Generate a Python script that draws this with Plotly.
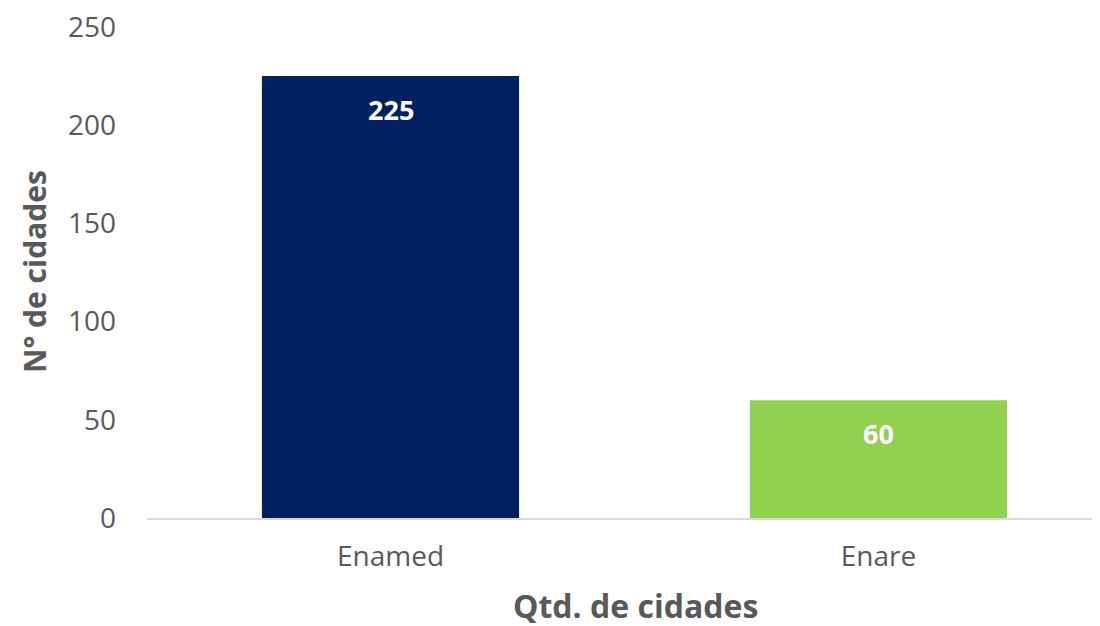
import plotly.graph_objects as go

# data
categorias = ["Enamed", "Enare"]
cidades = [225, 60]
cores = ["#002060", "#92D050"]
y_ticks = [0, 50, 100, 150, 200, 250]

FONT = "Open Sans"
CINZA = "#595959"

fig = go.Figure()
fig.add_trace(go.Bar(
    x=categorias, y=cidades,
    marker=dict(color=cores, line_width=0),
    width=0.527,
    hoverinfo="x+y",
))

# data labels inside the bars, a bit below the top
for cat, val in zip(categorias, cidades):
    fig.add_annotation(
        x=cat, y=val, text=f"<b>{val}</b>",
        showarrow=False, yshift=-33, yanchor="middle",
        font=dict(family=FONT, size=27, color="white"),
    )

# x title centered on the full category span
fig.add_annotation(
    text="<b>Qtd. de cidades</b>", xref="paper", yref="paper",
    x=0.513, y=-0.178, yanchor="middle", showarrow=False,
    font=dict(family=FONT, size=32, color=CINZA),
)

# page body has an 8px margin, so the figure starts at (8, 8)
fig.update_layout(
    width=1092, height=618,
    margin=dict(l=139, r=0, t=17, b=108),
    plot_bgcolor="white", paper_bgcolor="white",
    showlegend=False,
    font=dict(family=FONT, color=CINZA),
    xaxis=dict(
        range=[-0.499, 1.454],
        showgrid=False, zeroline=False,
        showline=True, linecolor="#D9D9D9", linewidth=2,
        ticks="", ticklabelstandoff=12,
        tickfont=dict(size=28, color=CINZA),
    ),
    yaxis=dict(
        range=[0, 251], tickmode="array", tickvals=y_ticks,
        showgrid=False, zeroline=False, showline=False,
        ticks="", ticklabelstandoff=30, ticklabeloverflow="allow",
        tickfont=dict(size=28, color=CINZA),
        title=dict(text="<b>N° de cidades</b>", standoff=12,
                   font=dict(size=30, color=CINZA)),
    ),
)

fig.write_html("out.html")
